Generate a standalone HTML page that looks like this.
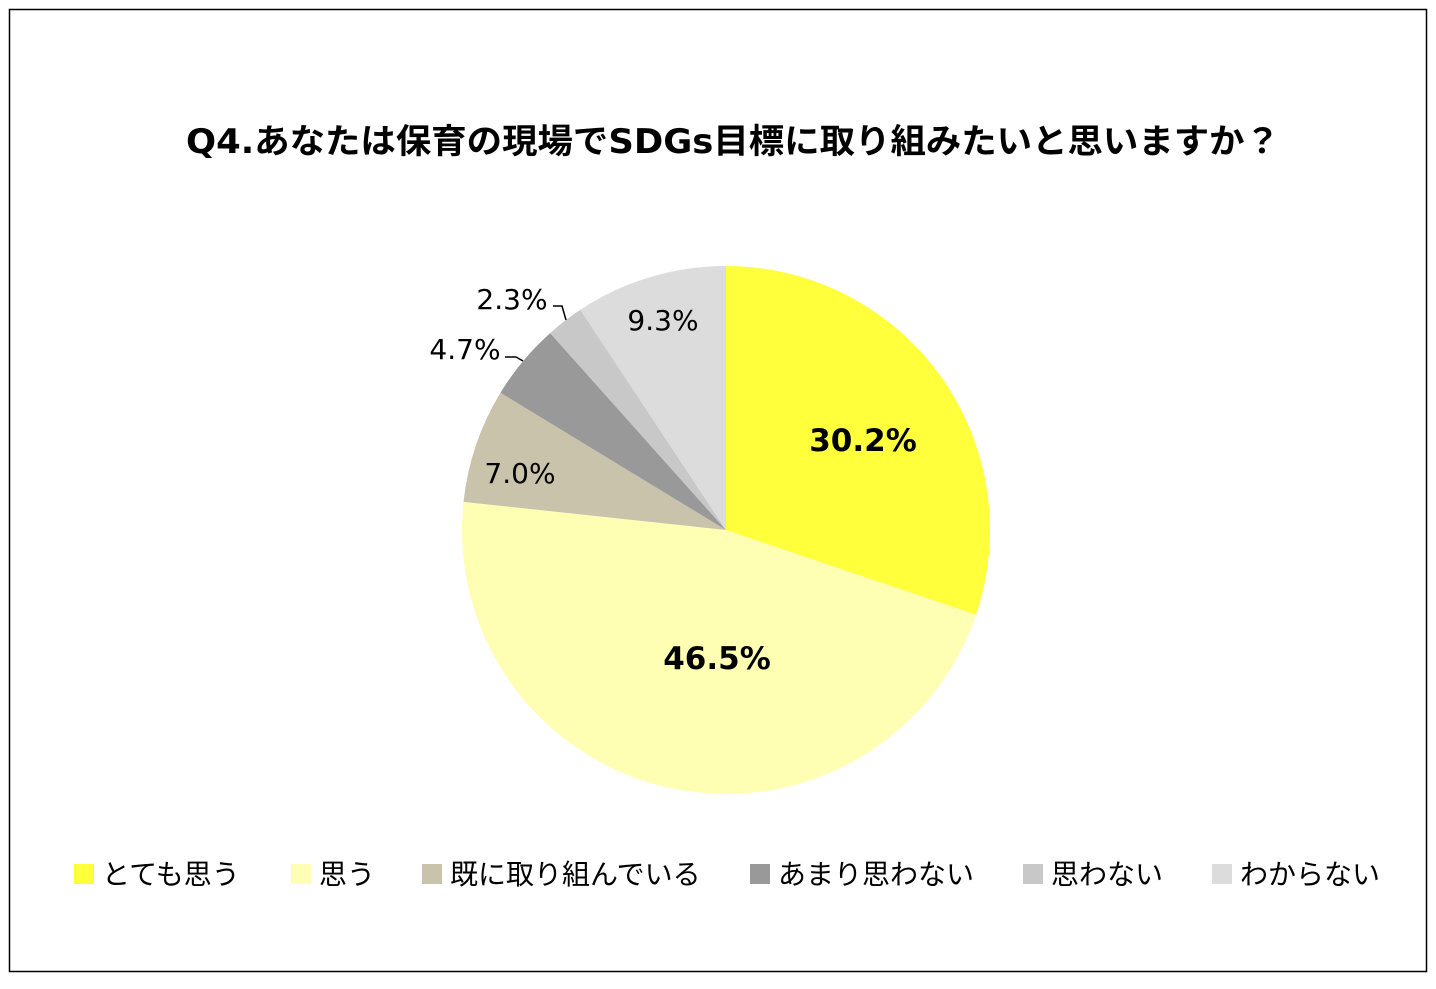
<!DOCTYPE html>
<html><head><meta charset="utf-8"><style>
body{margin:0;background:#fff;}
svg text{font-family:"DejaVu Sans","Noto Sans CJK JP",sans-serif;}
</style></head><body>
<svg width="1436" height="984" xmlns="http://www.w3.org/2000/svg">
<rect x="9.5" y="9.5" width="1417" height="962" fill="#fff" stroke="#000" stroke-width="1.5"/>
<text x="186" y="153" textLength="1094" lengthAdjust="spacingAndGlyphs" font-size="34" font-weight="bold">Q4.あなたは保育の現場でSDGs目標に取り組みたいと思いますか？</text>
<g id="pie"></g>
<g id="labels"></g>
<polyline points="553,306 562,306 566,320" fill="none" stroke="#000" stroke-width="1.5"/>
<polyline points="505,357 516,357 523,361" fill="none" stroke="#000" stroke-width="1.5"/>
<g id="legend"></g>
</svg>
<script>
const categories=["とても思う","思う","既に取り組んでいる","あまり思わない","思わない","わからない"];
const values=[30.2,46.5,7.0,4.7,2.3,9.3];
const colors=["#FFFF3C","#FFFFB4","#C9C3AB","#999999","#C8C8C8","#DCDCDC"];
const labelPos=[[863,440,1],[717,658,1],[520,473,0],[465,349,0],[512,299,0],[663,320,0]];
const legendX=[74,291,422,750,1023,1212];
const NS="http://www.w3.org/2000/svg";
const cx=726,cy=530,r=264;
const total=values.reduce((a,b)=>a+b,0);
const pie=document.getElementById('pie');
let a=0;
function pt(t){const ang=t/total*2*Math.PI-Math.PI/2;return [cx+r*Math.cos(ang),cy+r*Math.sin(ang)];}
values.forEach((v,i)=>{
  const p0=pt(a),p1=pt(a+v);const large=v/total>0.5?1:0;
  const p=document.createElementNS(NS,'path');
  p.setAttribute('d',`M${cx},${cy}L${p0[0]},${p0[1]}A${r},${r} 0 ${large} 1 ${p1[0]},${p1[1]}Z`);
  p.setAttribute('fill',colors[i]);
  
  
  pie.appendChild(p);
  a+=v;
  const t=document.createElementNS(NS,'text');
  const bold=labelPos[i][2];
  t.setAttribute('x',labelPos[i][0]);t.setAttribute('y',labelPos[i][1]+(bold?11:10));
  t.setAttribute('text-anchor','middle');t.setAttribute('font-size',bold?'31':'28');
  if(bold)t.setAttribute('font-weight','bold');
  t.textContent=v.toFixed(1)+'%';
  
  
  document.getElementById('labels').appendChild(t);
});
const lg=document.getElementById('legend');
categories.forEach((c,i)=>{
  const g=document.createElementNS(NS,'g');
  
  
  const s=document.createElementNS(NS,'rect');
  s.setAttribute('x',legendX[i]);s.setAttribute('y',864);s.setAttribute('width',20);s.setAttribute('height',20);
  s.setAttribute('fill',colors[i]);
  
  
  const t=document.createElementNS(NS,'text');
  t.setAttribute('x',legendX[i]+28);t.setAttribute('y',884);t.setAttribute('font-size','28');
  t.textContent=c;
  
  
  g.appendChild(s);g.appendChild(t);lg.appendChild(g);
});
</script>
</body></html>
